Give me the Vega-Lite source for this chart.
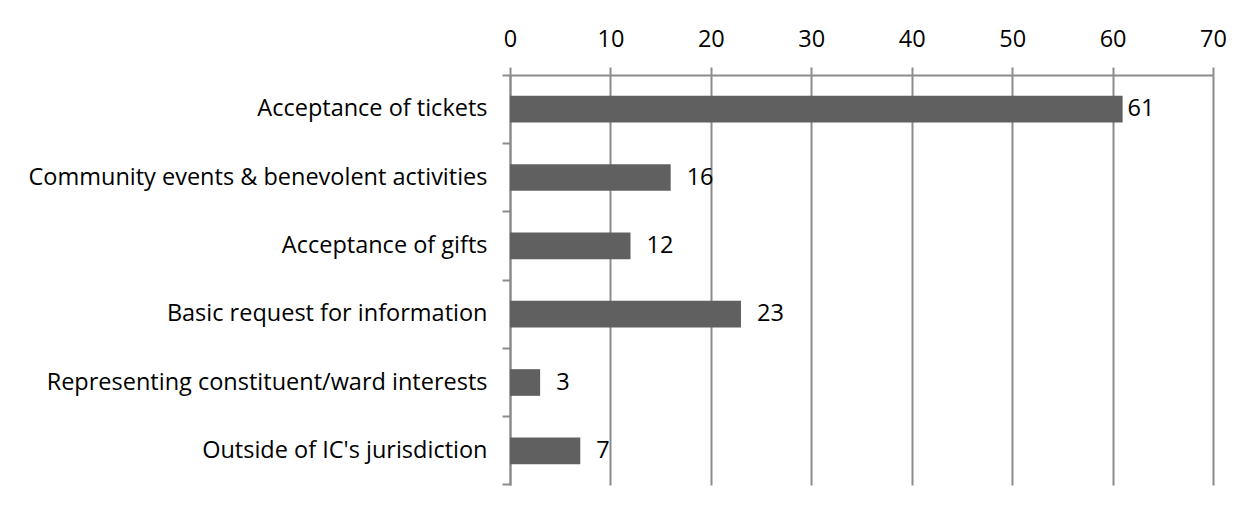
{
  "$schema": "https://vega.github.io/schema/vega-lite/v6.json",
  "autosize": "none",
  "width": 703,
  "height": 410,
  "padding": {"left": 510, "top": 75, "right": 40, "bottom": 25},
  "background": "white",
  "config": {
    "view": {"stroke": null},
    "font": "Open Sans"
  },
  "data": {
    "values": [
      {"category": "Acceptance of tickets", "count": 61},
      {"category": "Community events & benevolent activities", "count": 16},
      {"category": "Acceptance of gifts", "count": 12},
      {"category": "Basic request for information", "count": 23},
      {"category": "Representing constituent/ward interests", "count": 3},
      {"category": "Outside of IC's jurisdiction", "count": 7}
    ]
  },
  "encoding": {
    "y": {
      "field": "category",
      "type": "nominal",
      "sort": null,
      "scale": {"paddingInner": 0, "paddingOuter": 0},
      "axis": {
        "title": null,
        "orient": "left",
        "bandPosition": 1,
        "tickExtra": true,
        "tickSize": 8,
        "tickColor": "#8c8c8c",
        "tickWidth": 2,
        "domainColor": "#8c8c8c",
        "domainWidth": 2,
        "labelFont": "Open Sans",
        "labelFontSize": 23.5,
        "labelColor": "#000000",
        "labelPadding": 15,
        "labelLimit": 600,
        "grid": false
      }
    },
    "x": {
      "field": "count",
      "type": "quantitative",
      "scale": {"domain": [0, 70], "nice": false},
      "axis": {
        "title": null,
        "orient": "top",
        "values": [0, 10, 20, 30, 40, 50, 60, 70],
        "tickSize": 8,
        "tickColor": "#8c8c8c",
        "tickWidth": 2,
        "domainColor": "#8c8c8c",
        "domainWidth": 2,
        "grid": true,
        "gridColor": "#8c8c8c",
        "gridWidth": 2,
        "labelFont": "Open Sans",
        "labelFontSize": 23.5,
        "labelColor": "#000000",
        "labelFlush": false,
        "labelPadding": 16
      }
    }
  },
  "layer": [
    {"mark": {"type": "bar", "color": "#606060", "height": {"band": 0.39}}},
    {
      "transform": [{"filter": "datum.count < 50"}],
      "mark": {"type": "text", "align": "left", "baseline": "middle", "dx": 16, "fontSize": 23.5, "font": "Open Sans", "color": "#000000"},
      "encoding": {"text": {"field": "count", "type": "quantitative"}}
    },
    {
      "transform": [{"filter": "datum.count >= 50"}],
      "mark": {"type": "text", "align": "left", "baseline": "middle", "dx": 5, "fontSize": 23.5, "font": "Open Sans", "color": "#000000"},
      "encoding": {"text": {"field": "count", "type": "quantitative"}}
    }
  ]
}
